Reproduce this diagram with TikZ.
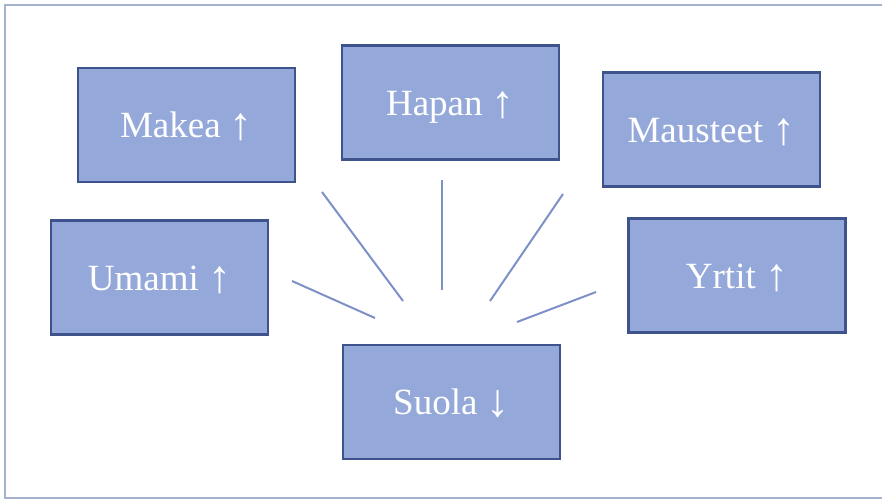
\documentclass[tikz,border=0pt]{standalone}
\usepackage{fontspec}
\setmainfont{Liberation Serif}
\usetikzlibrary{positioning}
\definecolor{boxfill}{RGB}{149,168,218}
\definecolor{boxedge}{RGB}{62,82,140}
\definecolor{spokeblue}{RGB}{125,145,200}
\definecolor{framegray}{RGB}{165,178,205}
\newcommand{\uparr}{{\fontsize{46}{46}\selectfont\raisebox{-2pt}{↑}}}
\newcommand{\downarr}{{\fontsize{46}{46}\selectfont\raisebox{-2pt}{↓}}}
\tikzset{
  flavour/.style = {draw=boxedge, fill=boxfill, line width=2.2pt, minimum width=217pt, minimum height=114pt, inner sep=0pt, text height=25pt, text depth=0pt, text=white, font=\fontsize{37}{40}\selectfont},
  spoke/.style = {draw=spokeblue, line width=2pt},
  frame/.style = {draw=framegray, line width=2pt}
}
\begin{document}
\begin{tikzpicture}[x=1pt,y=-1pt]
\useasboundingbox (0,0) rectangle (882,499);
\draw [frame] (882,5) -- (5,5) -- (5,497.5) -- (882,497.5);
% flavour boxes
\node [flavour] (makea) at (186.5,125) {Makea \uparr};
\node [flavour] (hapan) at (450.5,102.5) {Hapan \uparr};
\node [flavour] (mausteet) at (711.5,129.5) {Mausteet \uparr};
\node [flavour] (umami) at (159.5,277.5) {Umami \uparr};
\node [flavour] (yrtit) at (737,275.5) {Yrtit \uparr};
\node [flavour] (suola) at (451.5,402) {Suola \downarr};
% spokes
\coordinate (mk1) at (322,192); \coordinate (mk2) at (403,301);
\coordinate (hp1) at (442,180); \coordinate (hp2) at (442,290);
\coordinate (ms1) at (563,194); \coordinate (ms2) at (490,301);
\coordinate (um1) at (292,281); \coordinate (um2) at (375,318);
\coordinate (yr1) at (596,292); \coordinate (yr2) at (517,322);
\draw [spoke] (mk1) -- (mk2);
\draw [spoke] (hp1) -- (hp2);
\draw [spoke] (ms1) -- (ms2);
\draw [spoke] (um1) -- (um2);
\draw [spoke] (yr1) -- (yr2);
\end{tikzpicture}
\end{document}
